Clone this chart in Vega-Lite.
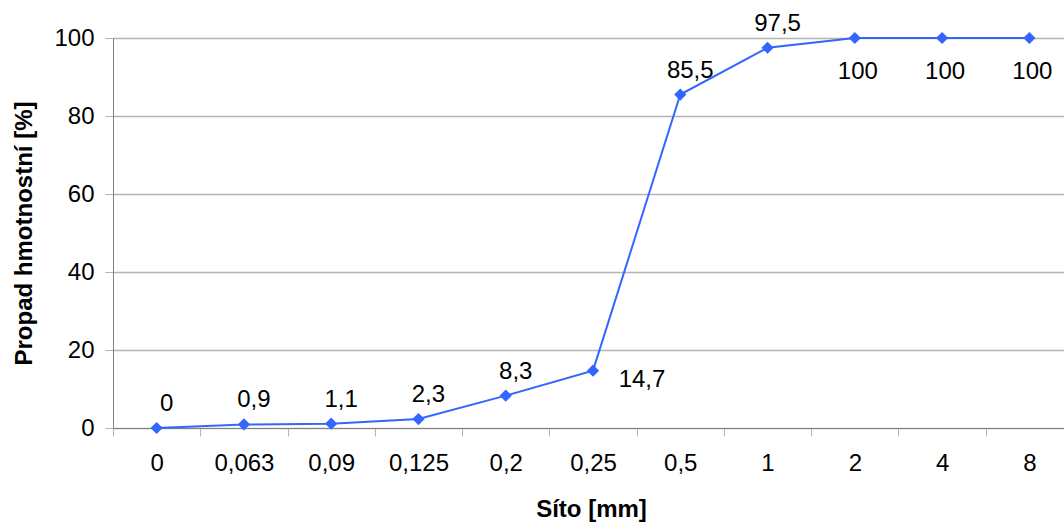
{
  "$schema": "https://vega.github.io/schema/vega-lite/v6.json",
  "width": 960,
  "height": 390,
  "autosize": {"type": "none"},
  "padding": {"left": 113, "top": 38, "right": -9, "bottom": 97},
  "background": "white",
  "config": {
    "font": "Liberation Sans",
    "view": {"stroke": null}
  },
  "data": {
    "values": [
      {"sito": "0", "propad": 0, "label": "0", "pos": "above"},
      {"sito": "0,063", "propad": 0.9, "label": "0,9", "pos": "above"},
      {"sito": "0,09", "propad": 1.1, "label": "1,1", "pos": "above"},
      {"sito": "0,125", "propad": 2.3, "label": "2,3", "pos": "above"},
      {"sito": "0,2", "propad": 8.3, "label": "8,3", "pos": "above"},
      {"sito": "0,25", "propad": 14.7, "label": "14,7", "pos": "right"},
      {"sito": "0,5", "propad": 85.5, "label": "85,5", "pos": "above"},
      {"sito": "1", "propad": 97.5, "label": "97,5", "pos": "above"},
      {"sito": "2", "propad": 100, "label": "100", "pos": "below"},
      {"sito": "4", "propad": 100, "label": "100", "pos": "below"},
      {"sito": "8", "propad": 100, "label": "100", "pos": "below"}
    ]
  },
  "encoding": {
    "x": {
      "field": "sito",
      "type": "ordinal",
      "sort": null,
      "scale": {"paddingInner": 0, "paddingOuter": 0},
      "axis": {
        "title": "Síto [mm]",
        "titleFontSize": 24,
        "titleFontWeight": "bold",
        "titleColor": "black",
        "titlePadding": 22,
        "titleAnchor": "middle",
        "titleX": 478,
        "labelAngle": 0,
        "labelFontSize": 24,
        "labelColor": "black",
        "labelPadding": 15,
        "tickBand": "extent",
        "tickSize": 8,
        "tickColor": "#b3b3b3",
        "domainColor": "#808080",
        "grid": false
      }
    },
    "y": {
      "field": "propad",
      "type": "quantitative",
      "scale": {"domain": [0, 100], "nice": false},
      "axis": {
        "title": "Propad hmotnostní [%]",
        "titleFontSize": 24,
        "titleFontWeight": "bold",
        "titleColor": "black",
        "titlePadding": 17,
        "values": [0, 20, 40, 60, 80, 100],
        "labelFontSize": 24,
        "labelColor": "black",
        "labelPadding": 11,
        "tickSize": 8,
        "tickColor": "#b3b3b3",
        "domainColor": "#808080",
        "gridColor": "#b3b3b3",
        "gridWidth": 1.5
      }
    }
  },
  "layer": [
    {
      "mark": {"type": "line", "color": "#3366ff", "strokeWidth": 2},
      "encoding": {}
    },
    {
      "mark": {"type": "point", "shape": "diamond", "filled": true, "color": "#3366ff", "size": 150, "opacity": 1},
      "encoding": {}
    },
    {
      "transform": [{"filter": "datum.pos === 'above'"}],
      "mark": {"type": "text", "fontSize": 24, "color": "black", "dx": 10, "dy": -24, "baseline": "middle"},
      "encoding": {"text": {"field": "label"}}
    },
    {
      "transform": [{"filter": "datum.pos === 'below'"}],
      "mark": {"type": "text", "fontSize": 24, "color": "black", "dx": 3, "dy": 34, "baseline": "middle"},
      "encoding": {"text": {"field": "label"}}
    },
    {
      "transform": [{"filter": "datum.pos === 'right'"}],
      "mark": {"type": "text", "fontSize": 24, "color": "black", "dx": 49, "dy": 9, "baseline": "middle"},
      "encoding": {"text": {"field": "label"}}
    }
  ]
}
